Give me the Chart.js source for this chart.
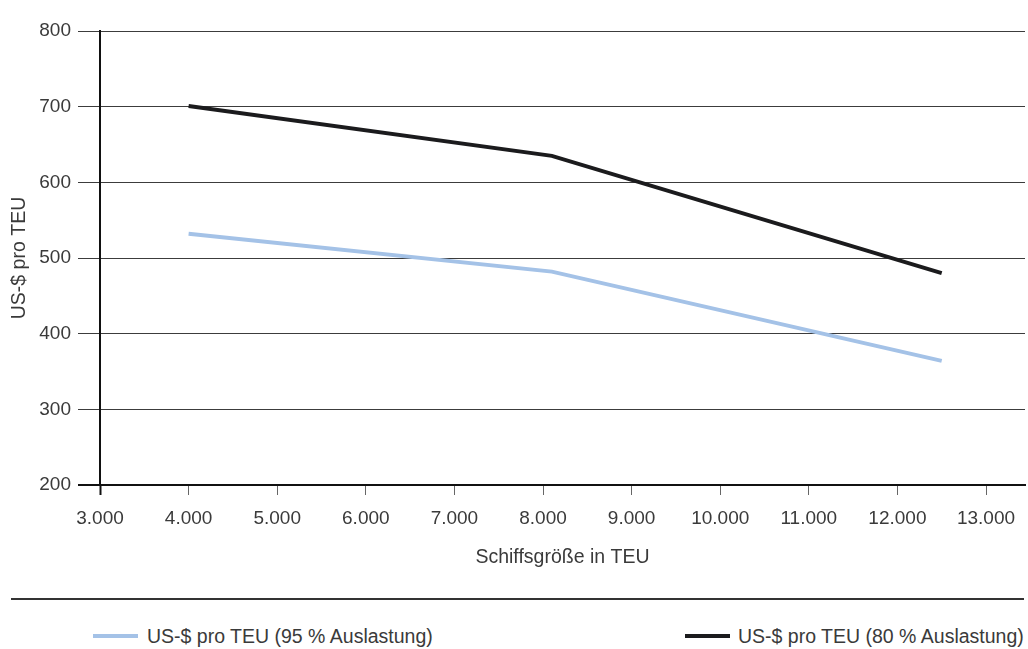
<!DOCTYPE html>
<html>
<head>
<meta charset="utf-8">
<script src="https://cdn.jsdelivr.net/npm/chart.js@4/dist/chart.umd.min.js"></script>
<style>
  html, body { margin: 0; padding: 0; background: #fff; }
  body { width: 1028px; height: 649px; position: relative; overflow: hidden;
         font-family: "Liberation Sans", Arial, sans-serif; color: #3a3a3a; }
  #wrap { position: absolute; left: 0; top: 0; width: 1028px; height: 580px; }
  .sep { position: absolute; left: 11px; top: 598px; width: 1013px; height: 2px; background: #333; }
  .swatch { position: absolute; height: 4px; width: 45px; top: 634px; }
  .label { position: absolute; top: 626px; line-height: 20px; font-size: 19.5px; white-space: nowrap; color: #3a3a3a; }
</style>
</head>
<body>
<div id="wrap"><canvas id="chart" width="1028" height="580"></canvas></div>
<div class="sep"></div>
<div id="legend"></div>
<script>
// Ship size (TEU) against cost per TEU at two utilisation levels
const shipSizes = [4000, 8100, 12500];
const cost95 = [532, 482, 364];
const cost80 = [701, 635, 480];

const seriesNames = ['US-$ pro TEU (95 % Auslastung)', 'US-$ pro TEU (80 % Auslastung)'];
const seriesColors = ['#a4c2e7', '#1b1b1d'];

const xTickValues = [3000, 4000, 5000, 6000, 7000, 8000, 9000, 10000, 11000, 12000, 13000];
const xTickLabels = ['3.000', '4.000', '5.000', '6.000', '7.000', '8.000', '9.000', '10.000', '11.000', '12.000', '13.000'];
const yTickValues = [200, 300, 400, 500, 600, 700, 800];

const xTitle = 'Schiffsgröße in TEU';
const yTitle = 'US-$ pro TEU';

const textColor = '#3a3a3a';
const axisColor = '#111';
const fontFamily = '"Liberation Sans", Arial, sans-serif';

function points(values) {
  return shipSizes.map((x, i) => ({ x: x, y: values[i] }));
}

new Chart(document.getElementById('chart'), {
  type: 'line',
  data: {
    datasets: [
      { label: seriesNames[0], data: points(cost95), borderColor: seriesColors[0],
        borderWidth: 4, pointRadius: 0, tension: 0, borderCapStyle: 'butt' },
      { label: seriesNames[1], data: points(cost80), borderColor: seriesColors[1],
        borderWidth: 4, pointRadius: 0, tension: 0, borderCapStyle: 'butt' }
    ]
  },
  options: {
    responsive: false,
    devicePixelRatio: 1,
    animation: false,
    layout: { padding: { top: 31, right: 3, left: 0, bottom: 0 } },
    plugins: { legend: { display: false }, tooltip: { enabled: false } },
    scales: {
      x: {
        type: 'linear',
        min: 3000,
        max: 13440,
        afterBuildTicks: s => { s.ticks = xTickValues.map(v => ({ value: v })); },
        afterFit: s => { s.height = 95; },
        grid: {
          drawOnChartArea: false,
          drawTicks: true,
          tickLength: 10,
          tickColor: c => (c.index === 0 ? axisColor : '#666'),
          tickWidth: c => (c.index === 0 ? 2 : 1)
        },
        border: { display: true, color: axisColor, width: 2 },
        ticks: {
          autoSkip: false, maxRotation: 0, padding: 12,
          font: { size: 19, family: fontFamily }, color: textColor,
          callback: (v, i) => xTickLabels[i]
        },
        title: {
          display: true, text: xTitle, color: textColor,
          font: { size: 19.5, family: fontFamily },
          padding: { top: 0, bottom: 11 }
        }
      },
      y: {
        min: 200,
        max: 800,
        afterBuildTicks: s => { s.ticks = yTickValues.map(v => ({ value: v })); },
        afterFit: s => { s.width = 100; },
        grid: {
          drawTicks: true,
          tickLength: 22,
          color: c => (c.tick && c.tick.value === 200 ? axisColor : '#3c3c3c'),
          lineWidth: c => (c.tick && c.tick.value === 200 ? 2 : 1)
        },
        border: { display: true, color: axisColor, width: 2 },
        ticks: {
          padding: 7,
          font: { size: 19, family: fontFamily }, color: textColor,
          callback: v => String(v)
        },
        title: {
          display: true, text: yTitle, color: textColor,
          font: { size: 19.5, family: fontFamily },
          padding: { top: 8, bottom: 0 }
        }
      }
    }
  }
});

// Legend below the separator: one entry on the left, one on the right
const legendPos = [{ swatch: 93, text: 147 }, { swatch: 685, text: 738 }];
const legend = document.getElementById('legend');
seriesNames.forEach((name, i) => {
  const sw = document.createElement('div');
  sw.className = 'swatch';
  sw.style.left = legendPos[i].swatch + 'px';
  sw.style.background = seriesColors[i];
  legend.appendChild(sw);
  const tx = document.createElement('div');
  tx.className = 'label';
  tx.style.left = legendPos[i].text + 'px';
  tx.textContent = name;
  legend.appendChild(tx);
});
</script>
</body>
</html>
